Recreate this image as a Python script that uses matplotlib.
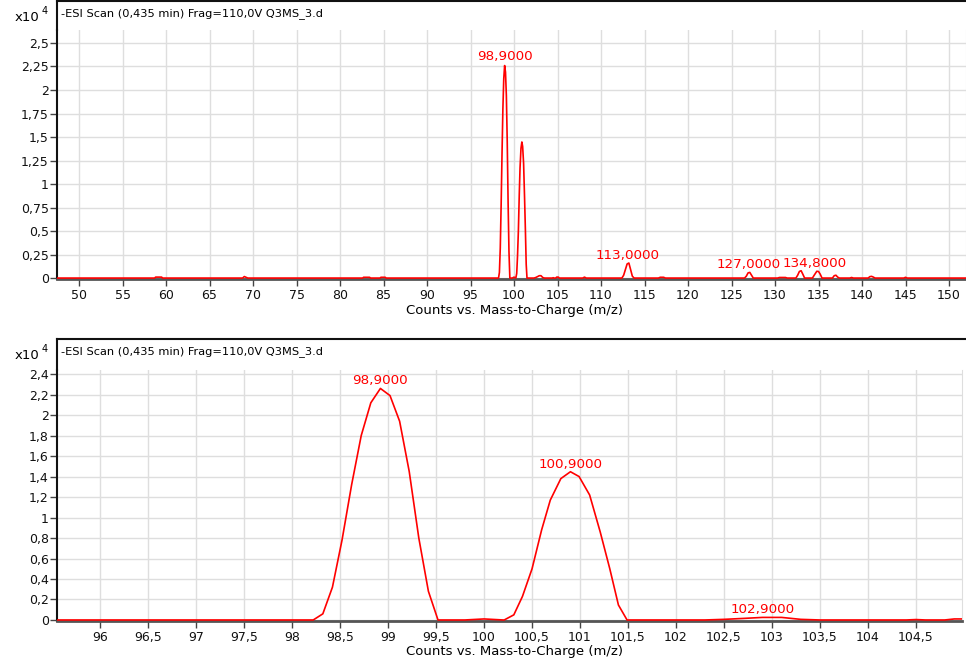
import matplotlib
matplotlib.use("Agg")
import matplotlib.pyplot as plt
from matplotlib.ticker import FuncFormatter, FixedLocator

plt.rcParams['font.family'] = ['DejaVu Sans']
plt.rcParams['font.size'] = 9

title_txt = "-ESI Scan (0,435 min) Frag=110,0V Q3MS_3.d"
xlabel_txt = "Counts vs. Mass-to-Charge (m/z)"

# profile spectrum, intensity in units of 10^4 counts
mz = [47.0,
      58.7, 58.8, 59.5, 59.6,
      68.8, 69.0, 69.2, 69.4,
      82.6, 82.7, 83.4, 83.5,
      84.6, 84.7, 85.2, 85.3,
      98.22, 98.32, 98.42, 98.52, 98.62, 98.72, 98.82, 98.92, 99.02, 99.12,
      99.22, 99.32, 99.42, 99.52,
      99.8, 100.0, 100.2,
      100.21, 100.31, 100.40, 100.50, 100.60, 100.69, 100.80, 100.90, 100.99,
      101.10, 101.21, 101.31, 101.40, 101.49,
      102.3, 102.5, 102.7, 102.9, 103.1, 103.3, 103.5,
      104.4, 104.5, 104.6,
      104.8, 104.9, 105.1, 105.2,
      107.9, 108.1, 108.3,
      112.4, 112.6, 112.8, 113.0, 113.2, 113.4, 113.6, 113.8,
      116.6, 116.8, 117.2, 117.4,
      126.5, 126.7, 126.9, 127.1, 127.3, 127.5,
      130.3, 130.5, 131.2, 131.4,
      132.4, 132.6, 132.8, 133.0, 133.2, 133.4,
      134.3, 134.5, 134.8, 135.0, 135.2, 135.4,
      136.6, 136.8, 137.0, 137.2, 137.4,
      138.6, 138.8, 139.0,
      140.7, 140.9, 141.1, 141.3, 141.5,
      144.8, 145.0, 145.2,
      152.0]
counts = [0.0,
          0.0, 0.01, 0.01, 0.0,
          0.0, 0.016, 0.008, 0.0,
          0.0, 0.008, 0.008, 0.0,
          0.0, 0.008, 0.008, 0.0,
          0.0, 0.06, 0.32, 0.78, 1.32, 1.80, 2.12, 2.26, 2.19, 1.94,
          1.45, 0.80, 0.28, 0.0,
          0.0, 0.01, 0.0,
          0.0, 0.05, 0.23, 0.50, 0.88, 1.17, 1.38, 1.447, 1.40,
          1.22, 0.86, 0.50, 0.146, 0.0,
          0.0, 0.006, 0.015, 0.025, 0.025, 0.006, 0.0,
          0.0, 0.004, 0.0,
          0.0, 0.01, 0.01, 0.0,
          0.0, 0.01, 0.0,
          0.0, 0.03, 0.09, 0.15, 0.16, 0.09, 0.02, 0.0,
          0.0, 0.008, 0.008, 0.0,
          0.0, 0.02, 0.055, 0.06, 0.03, 0.0,
          0.0, 0.006, 0.006, 0.0,
          0.0, 0.03, 0.07, 0.078, 0.04, 0.0,
          0.0, 0.03, 0.072, 0.07, 0.04, 0.0,
          0.0, 0.025, 0.03, 0.01, 0.0,
          0.0, 0.006, 0.0,
          0.0, 0.015, 0.018, 0.01, 0.0,
          0.0, 0.008, 0.0,
          0.0]

# annotated peaks
top_peaks_mz = [98.9, 113.0, 127.0, 134.6]
top_peaks_y = [2.27, 0.16, 0.06, 0.078]
top_peaks_txt = ["98,9000", "113,0000", "127,0000", "134,8000"]
bot_peaks_mz = [98.92, 100.90, 102.9]
bot_peaks_y = [2.26, 1.447, 0.025]
bot_peaks_txt = ["98,9000", "100,9000", "102,9000"]

top_xticks = list(range(50, 151, 5))
top_yticks = [0, 0.25, 0.5, 0.75, 1, 1.25, 1.5, 1.75, 2, 2.25, 2.5]
bot_xticks = [96 + 0.5 * i for i in range(19)]
bot_yticks = [round(0.2 * i, 1) for i in range(13)]

W, H = 966, 666
fig = plt.figure(figsize=(W / 100, H / 100), dpi=100)


def frac(x0, y0, x1, y1):
    # pixel box (top-left origin) -> figure fraction rect
    return [x0 / W, (H - y1) / H, (x1 - x0) / W, (y1 - y0) / H]


def comma(v, pos=None):
    s = "%g" % round(v, 2)
    return s.replace(".", ",")


def make_panel(box, head_box, xlim, ylim, xticks, yticks, peaks, label_y):
    ax = fig.add_axes(frac(*box))
    ax.plot(mz, counts, color="#ff0000", lw=1.2, zorder=3)
    ax.set_xlim(*xlim)
    ax.set_ylim(*ylim)
    ax.xaxis.set_major_locator(FixedLocator(xticks))
    ax.yaxis.set_major_locator(FixedLocator(yticks))
    ax.xaxis.set_major_formatter(FuncFormatter(comma))
    ax.yaxis.set_major_formatter(FuncFormatter(comma))
    ax.grid(True, color="#dedede", lw=1)
    ax.set_axisbelow(True)
    ax.spines["top"].set_visible(False)
    ax.spines["right"].set_color("#dedede")
    ax.spines["left"].set_color("#111111")
    ax.spines["left"].set_linewidth(1.5)
    ax.spines["bottom"].set_color("#555555")
    ax.spines["bottom"].set_linewidth(2)
    ax.tick_params(axis="both", direction="out", length=5, width=1,
                   color="#444444", labelsize=9, labelcolor="#111111")
    ax.tick_params(axis="x", pad=2)
    ax.tick_params(axis="y", pad=1)
    for x, y, t in zip(*peaks):
        ax.annotate(t, (x, y), xytext=(0, 3), textcoords="offset points",
                    ha="center", va="baseline", color="#ff0000",
                    fontsize=9.7)

    hd = fig.add_axes(frac(*head_box))
    hd.set_xticks([])
    hd.set_yticks([])
    hd.patch.set_alpha(0)
    hd.spines["right"].set_visible(False)
    hd.spines["bottom"].set_visible(False)
    for s in ("left", "top"):
        hd.spines[s].set_color("#111111")
        hd.spines[s].set_linewidth(1.5)
    fig.text(61 / W, 1 - (head_box[1] + 13) / H, title_txt,
             ha="left", va="center", fontsize=8.2)

    ty = 1 - (head_box[1] + 15) / H
    fig.text(39 / W, ty - 0.003, "x10", ha="right", va="center", fontsize=9.5)
    fig.text(42 / W, ty + 0.007, "4", ha="left", va="center", fontsize=7)
    fig.text(514 / W, 1 - label_y / H, xlabel_txt, ha="center", va="center",
             fontsize=9.5)
    return ax


make_panel((57, 30, 966, 279), (57, 1, 966, 30), (47.47, 151.95),
           (-0.01, 2.638), top_xticks, top_yticks,
           (top_peaks_mz, top_peaks_y, top_peaks_txt), 310)
make_panel((57, 370, 962, 621), (57, 339, 966, 370), (95.55, 104.98),
           (-0.01, 2.44), bot_xticks, bot_yticks,
           (bot_peaks_mz, bot_peaks_y, bot_peaks_txt), 652)

fig.savefig("out.png", dpi=100)
